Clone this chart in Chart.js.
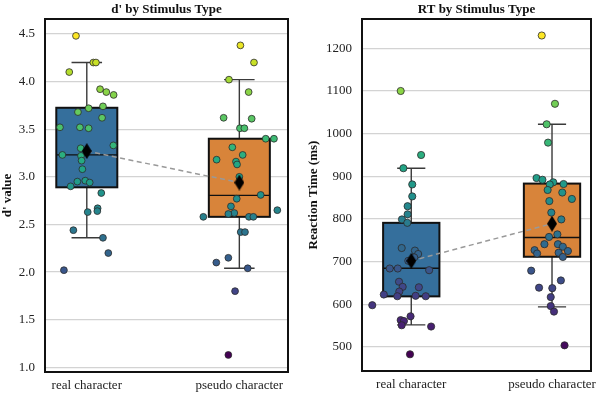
<!DOCTYPE html>
<html>
<head>
<meta charset="utf-8">
<script src="https://cdn.jsdelivr.net/npm/chart.js@4.4.1/dist/chart.umd.min.js"></script>
<style>
  body { margin: 0; background: #fff; }
  .wrap { display: flex; width: 600px; height: 395px; }
  .wrap div { width: 300px; height: 395px; }
</style>
</head>
<body>
<div class="wrap">
  <div><canvas id="chartD" width="300" height="395"></canvas></div>
  <div><canvas id="chartRT" width="300" height="395"></canvas></div>
</div>
<script>
const groups = ['real character', 'pseudo character'];

// d' per participant (jitter = horizontal strip offset in category units)
const dReal = [4.48, 4.20, 4.20, 4.10, 3.92, 3.89, 3.86, 3.74, 3.72, 3.68, 3.62, 3.52, 3.52, 3.51, 3.33, 3.30,
  3.23, 3.22, 3.17, 3.08, 2.96, 2.95, 2.94, 2.90, 2.83, 2.67, 2.64, 2.63, 2.44, 2.36, 2.20, 2.02];
const dRealJitter = [-0.071, 0.043, 0.060, -0.115, 0.087, 0.128, 0.176, 0.106, 0.012, -0.058, 0.100, -0.176, -0.045, 0.012, 0.174, -0.040,
  -0.160, -0.038, -0.034, -0.029, -0.010, -0.062, 0.019, -0.106, 0.095, 0.071, 0.069, 0.006, -0.088, 0.106, 0.141, -0.150];
const dPseudo = [4.38, 4.20, 4.02, 3.89, 3.62, 3.61, 3.51, 3.51, 3.40, 3.40, 3.31, 3.23, 3.18, 3.16, 3.13, 3.00,
  2.81, 2.77, 2.69, 2.65, 2.62, 2.61, 2.58, 2.58, 2.58, 2.42, 2.42, 2.15, 2.10, 2.04, 1.80, 1.13];
const dPseudoJitter = [0.007, 0.096, -0.068, 0.061, -0.103, 0.081, 0.004, 0.033, 0.173, 0.227, -0.046, 0.022, -0.149, -0.022, -0.015, 0.0,
  0.140, -0.017, -0.055, 0.249, -0.033, -0.072, -0.236, 0.063, 0.092, 0.009, 0.037, -0.072, -0.151, 0.055, -0.028, -0.072];

// box stats for d' (real, pseudo)
const dQ1 = [2.89, 2.58];
const dMedian = [3.23, 2.805];
const dQ3 = [3.725, 3.40];
const dWhiskLow = [2.36, 2.04];
const dWhiskHigh = [4.20, 4.02];
const dMean = [3.27, 2.94];

// reaction times (ms)
const rtReal = [1100, 950, 919, 881, 853, 830, 811, 799, 791, 732, 726, 718, 710, 702, 684, 684,
  680, 653, 641, 640, 630, 623, 619, 620, 619, 598, 572, 563, 561, 551, 548, 483];
const rtRealJitter = [-0.075, 0.070, -0.056, 0.007, 0.007, -0.026, -0.026, -0.066, -0.028, -0.068, 0.026, 0.049, 0.021, -0.021, -0.153, -0.096,
  0.127, -0.087, -0.061, 0.054, -0.085, -0.195, -0.099, 0.031, 0.103, -0.277, -0.005, -0.075, -0.052, -0.068, 0.141, -0.009];
const rtPseudo = [1230, 1070, 1022, 979, 896, 892, 886, 882, 881, 868, 862, 847, 842, 815, 799, 764,
  758, 741, 741, 735, 727, 725, 721, 719, 711, 679, 656, 639, 638, 617, 596, 583, 504];
const rtPseudoJitter = [-0.073, 0.021, -0.038, -0.028, -0.110, -0.068, 0.009, 0.082, -0.016, -0.031, 0.073, 0.141, -0.019, -0.005, 0.066, 0.038,
  -0.021, -0.054, 0.042, 0.077, -0.124, 0.113, 0.047, -0.106, 0.077, -0.148, 0.063, -0.092, 0.002, -0.009, -0.009, 0.014, 0.089];

const rtQ1 = [618.7, 711.5];
const rtMedian = [684.5, 756.8];
const rtQ3 = [791, 883];
const rtWhiskLow = [552, 594];
const rtWhiskHigh = [919, 1022];
const rtMean = [702, 789];

const boxColors = ['#356f9c', '#d8843a'];
const FONT = "'Liberation Serif', 'Times New Roman', serif";

const viridisStops = [
  [68, 1, 84], [72, 36, 117], [65, 68, 135], [53, 95, 141], [42, 120, 142], [33, 145, 140],
  [34, 168, 132], [68, 191, 112], [122, 209, 81], [189, 223, 38], [253, 231, 37]
];
function viridis(t) {
  t = Math.min(1, Math.max(0, t)) * 10;
  const i = Math.min(9, Math.floor(t)), f = t - i;
  const a = viridisStops[i], b = viridisStops[i + 1];
  return 'rgb(' + a.map((c, k) => Math.round(c + (b[k] - c) * f)).join(',') + ')';
}

function diamond(w, h) {
  const c = document.createElement('canvas');
  c.width = w; c.height = h;
  const g = c.getContext('2d');
  g.fillStyle = '#000';
  g.beginPath();
  g.moveTo(w / 2, 0); g.lineTo(w, h / 2); g.lineTo(w / 2, h); g.lineTo(0, h / 2);
  g.closePath(); g.fill();
  return c;
}

const boxPlugin = {
  id: 'boxes',
  beforeDatasetsDraw(chart, args, o) {
    const {ctx, scales: {x, y}} = chart;
    const half = o.width / 2;
    o.q1.forEach((q1, i) => {
      const xl = x.getPixelForValue(i - half), xr = x.getPixelForValue(i + half);
      const xc = x.getPixelForValue(i);
      const cl = x.getPixelForValue(i - half / 2), cr = x.getPixelForValue(i + half / 2);
      const y1 = y.getPixelForValue(q1), y3 = y.getPixelForValue(o.q3[i]);
      const yl = y.getPixelForValue(o.lo[i]), yh = y.getPixelForValue(o.hi[i]);
      const ym = y.getPixelForValue(o.med[i]);
      ctx.save();
      ctx.strokeStyle = '#3a3a3a';
      ctx.lineWidth = 1.4;
      ctx.beginPath();
      ctx.moveTo(xc, y3); ctx.lineTo(xc, yh);
      ctx.moveTo(cl, yh); ctx.lineTo(cr, yh);
      ctx.moveTo(xc, y1); ctx.lineTo(xc, yl);
      ctx.moveTo(cl, yl); ctx.lineTo(cr, yl);
      ctx.stroke();
      ctx.fillStyle = o.colors[i];
      ctx.fillRect(xl, y3, xr - xl, y1 - y3);
      ctx.strokeStyle = '#111';
      ctx.lineWidth = 2;
      ctx.strokeRect(xl, y3, xr - xl, y1 - y3);
      ctx.lineWidth = 1.4;
      ctx.beginPath();
      ctx.moveTo(xl, ym); ctx.lineTo(xr, ym);
      ctx.stroke();
      ctx.restore();
    });
  }
};

const framePlugin = {
  id: 'frame',
  afterDraw(chart) {
    const {ctx, chartArea: a} = chart;
    ctx.save();
    ctx.strokeStyle = '#111';
    ctx.lineWidth = 2;
    ctx.strokeRect(a.left, a.top, a.right - a.left, a.bottom - a.top);
    ctx.restore();
  }
};

function makeChart(id, s) {
  const all = s.real.concat(s.pseudo);
  const lo = Math.min(...all), hi = Math.max(...all);
  const colorOf = v => viridis((v - lo) / (hi - lo));
  const pts = (vals, jit, c) => vals.map((v, i) => ({x: c + jit[i], y: v}));

  const pointStyle = {
    type: 'scatter',
    pointRadius: s.radius,
    pointBorderWidth: 0.8,
    pointBorderColor: '#2b2b2b',
    order: 1
  };

  return new Chart(document.getElementById(id), {
    type: 'scatter',
    data: {
      datasets: [
        {
          data: s.mean.map((m, i) => ({x: i, y: m})),
          pointStyle: diamond(10, 16),
          pointRadius: 8,
          order: 0
        },
        Object.assign({data: pts(s.real, s.realJitter, 0), pointBackgroundColor: s.real.map(colorOf)}, pointStyle),
        Object.assign({data: pts(s.pseudo, s.pseudoJitter, 1), pointBackgroundColor: s.pseudo.map(colorOf)}, pointStyle),
        {
          data: s.mean.map((m, i) => ({x: i, y: m})),
          showLine: true,
          borderColor: '#999',
          borderWidth: 1.5,
          borderDash: [5, 3.5],
          pointRadius: 0,
          order: 2
        }
      ]
    },
    options: {
      responsive: false,
      animation: false,
      layout: {padding: {left: 0, right: s.padRight, top: 0, bottom: 0}},
      plugins: {
        legend: {display: false},
        tooltip: {enabled: false},
        title: {
          display: true,
          fullSize: false,
          text: s.title,
          color: '#111',
          font: {family: FONT, size: 13, weight: 'bold'},
          padding: {top: 2, bottom: 1.4}
        },
        boxes: {
          width: 0.4,
          q1: s.q1, q3: s.q3, med: s.median, lo: s.whiskLow, hi: s.whiskHigh,
          colors: boxColors
        }
      },
      scales: {
        x: {
          type: 'linear',
          min: s.xMin,
          max: s.xMax,
          afterBuildTicks: sc => { sc.ticks = groups.map((g, i) => ({value: i})); },
          afterFit: sc => { sc.height = s.xHeight; sc.paddingLeft = 0; sc.paddingRight = 0; },
          grid: {display: false, drawTicks: false},
          border: {display: false},
          ticks: {
            autoSkip: false,
            maxRotation: 0,
            padding: 6,
            color: '#222',
            font: {family: FONT, size: 13},
            callback: v => groups[v]
          }
        },
        y: {
          min: s.yMin,
          max: s.yMax,
          afterFit: sc => { sc.width = s.yWidth; sc.paddingTop = 0; sc.paddingBottom = 0; },
          grid: {color: '#d3d3d3', lineWidth: 1.2, drawTicks: false},
          border: {display: false},
          title: {
            display: true,
            text: s.yTitle,
            color: '#111',
            font: {family: FONT, size: 13, weight: 'bold'},
            padding: {top: s.yTitlePad, bottom: 0}
          },
          ticks: {
            stepSize: s.step,
            includeBounds: false,
            padding: 10,
            color: '#222',
            font: {family: FONT, size: 13},
            callback: s.fmt
          }
        }
      }
    },
    plugins: [boxPlugin, framePlugin]
  });
}

makeChart('chartD', {
  title: "d' by Stimulus Type",
  yTitle: "d' value",
  real: dReal, realJitter: dRealJitter,
  pseudo: dPseudo, pseudoJitter: dPseudoJitter,
  q1: dQ1, median: dMedian, q3: dQ3, whiskLow: dWhiskLow, whiskHigh: dWhiskHigh, mean: dMean,
  yMin: 0.951, yMax: 4.657, step: 0.5, fmt: v => v.toFixed(1),
  xMin: -0.274, xMax: 1.319,
  yWidth: 45, xHeight: 23, padRight: 12, yTitlePad: 0, radius: 3.4
});

makeChart('chartRT', {
  title: 'RT by Stimulus Type',
  yTitle: 'Reaction Time (ms)',
  real: rtReal, realJitter: rtRealJitter,
  pseudo: rtPseudo, pseudoJitter: rtPseudoJitter,
  q1: rtQ1, median: rtMedian, q3: rtQ3, whiskLow: rtWhiskLow, whiskHigh: rtWhiskHigh, mean: rtMean,
  yMin: 443.8, yMax: 1268.7, step: 100, fmt: v => String(v),
  xMin: -0.35, xMax: 1.277,
  yWidth: 62, xHeight: 24, padRight: 7, yTitlePad: 6, radius: 3.6
});
</script>
</body>
</html>
